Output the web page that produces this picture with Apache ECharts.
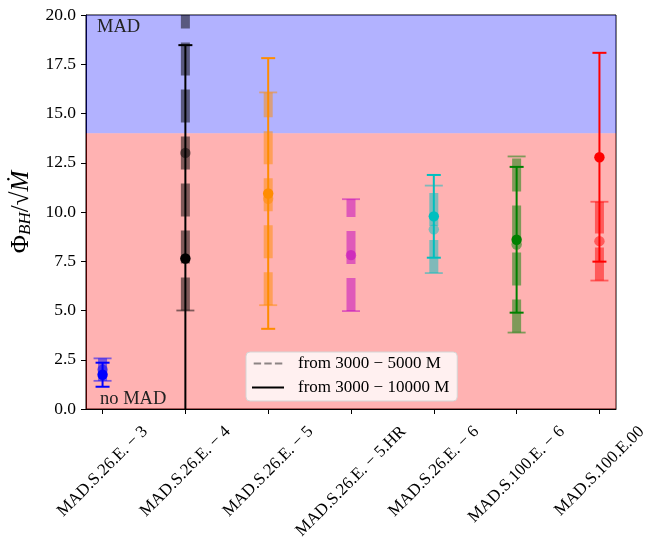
<!DOCTYPE html>
<html>
<head>
<meta charset="utf-8">
<script src="https://cdn.jsdelivr.net/npm/echarts@6/dist/echarts.min.js"></script>
<style>html,body{margin:0;padding:0;background:#fff}#c{width:666px;height:542px}</style>
</head>
<body>
<div id="c"></div>
<script>
// ---- data ----
const categories = ['MAD.S.26.E. − 3', 'MAD.S.26.E. − 4', 'MAD.S.26.E. − 5', 'MAD.S.26.E. − 5.HR', 'MAD.S.26.E. − 6', 'MAD.S.100.E. − 6', 'MAD.S.100.E.00'];
const colors = ['#0000ff', '#000000', '#ff8c00', '#bf00bf', '#00bfbf', '#008000', '#ff0000'];
// from 3000 - 5000 M (translucent dashed)
const shortMean = [2.00, 13.00, 10.67, 7.81, 9.12, 8.35, 8.52];
const shortErr  = [0.57, 8.00, 5.40, 2.84, 2.22, 4.47, 2.00];
// from 3000 - 10000 M (solid)
const longMean = [1.74, 7.64, 10.94, null, 9.78, 8.59, 12.78];
const longErr  = [0.61, 10.83, 6.87, null, 2.10, 3.70, 5.30];
const yTicks = [0, 2.5, 5, 7.5, 10, 12.5, 15, 17.5, 20];
const madThreshold = 14;
const legendNames = ['from 3000 − 5000 M', 'from 3000 − 10000 M'];

const FONT = '"Liberation Serif", "DejaVu Serif", serif';
const FS = 17;

function buildData(mean, err) {
  const out = [];
  mean.forEach((m, i) => { if (m !== null) out.push([i, m, err[i]]); });
  return out;
}

function makeRender(o) {
  return function (params, api) {
    const x = api.value(0), c = api.value(1), e = api.value(2);
    const color = colors[x];
    const cs = params.coordSys;
    const top = cs.y, bot = cs.y + cs.height;
    const pLo = api.coord([x, c - e]);
    const pHi = api.coord([x, c + e]);
    const pC = api.coord([x, c]);
    const yLo = Math.min(pLo[1], bot), yHi = Math.max(pHi[1], top);
    const ch = [];
    ch.push({ type: 'line', shape: { x1: pLo[0], y1: yLo, x2: pLo[0], y2: yHi },
      style: { stroke: color, lineWidth: o.lw, lineDash: o.dash, opacity: o.alpha, lineCap: 'butt' } });
    if (pLo[1] <= bot + 0.5) ch.push({ type: 'line', shape: { x1: pLo[0] - o.cap, y1: pLo[1], x2: pLo[0] + o.cap, y2: pLo[1] },
      style: { stroke: color, lineWidth: o.capLw, opacity: o.alpha } });
    if (pHi[1] >= top - 0.5) ch.push({ type: 'line', shape: { x1: pHi[0] - o.cap, y1: pHi[1], x2: pHi[0] + o.cap, y2: pHi[1] },
      style: { stroke: color, lineWidth: o.capLw, opacity: o.alpha } });
    ch.push({ type: 'circle', shape: { cx: pC[0], cy: pC[1], r: 5.2 }, style: { fill: color, opacity: o.alpha } });
    return { type: 'group', children: ch };
  };
}

// rotated, centre-anchored tick labels (like matplotlib rotation=45, ha=center)
const ctx = document.createElement('canvas').getContext('2d');
ctx.font = FS + 'px ' + FONT;
const rich = {};
categories.forEach((c, i) => {
  const L = ctx.measureText(c).width;
  const p = (L + FS) / 2;
  rich['l' + i] = { padding: [p, p, 0, 0], fontFamily: FONT, fontSize: FS, color: '#000' };
});

const dashIcon = 'path://M0,0h7.4v2h-7.4z M10.6,0h7.4v2h-7.4z M21.2,0h7.4v2h-7.4z';
const solidIcon = 'path://M0,0h32v2h-32z';

const chart = echarts.init(document.getElementById('c'));
chart.setOption({
  animation: false,
  backgroundColor: '#fff',
  grid: { left: 86, top: 15, width: 530, height: 394, show: true, borderColor: '#000', borderWidth: 1,
          containLabel: false, outerBoundsMode: 'none' },
  xAxis: {
    type: 'value', min: -0.2, max: 6.2,
    splitLine: { show: false },
    axisLine: { show: true, onZero: false, lineStyle: { color: '#000', width: 1 } },
    axisTick: { show: true, length: 5, lineStyle: { color: '#000' }, customValues: categories.map((_, i) => i) },
    axisLabel: {
      customValues: categories.map((_, i) => i),
      rotate: 45, align: 'center', verticalAlign: 'middle', margin: 14,
      formatter: v => { const i = Math.round(v); return '{l' + i + '|' + categories[i] + '}'; },
      rich: rich
    }
  },
  yAxis: {
    type: 'value', min: yTicks[0], max: yTicks[yTicks.length - 1], interval: 2.5,
    splitLine: { show: false },
    axisLine: { show: true, onZero: false, lineStyle: { color: '#000', width: 1 } },
    axisTick: { show: true, length: 5, lineStyle: { color: '#000' } },
    axisLabel: { formatter: v => v.toFixed(1), margin: 10, fontFamily: FONT, fontSize: 17.5, color: '#000' },
    name: '{a|Φ}{s|BH}{a|/√}{m|Ṁ}',
    nameLocation: 'middle', nameRotate: 90, nameGap: 50,
    nameTextStyle: {
      rich: {
        a: { fontFamily: FONT, fontSize: 25, color: '#000' },
        s: { fontFamily: FONT, fontSize: 17, fontStyle: 'italic', color: '#000', padding: [9, 0, 0, 0] },
        m: { fontFamily: FONT, fontSize: 25, fontStyle: 'italic', color: '#000' }
      }
    }
  },
  legend: {
    orient: 'vertical', left: 246, top: 352,
    data: [{ name: legendNames[0], icon: dashIcon }, { name: legendNames[1], icon: solidIcon }],
    itemWidth: 32, itemHeight: 2, itemGap: 5,
    padding: [2, 8, 4, 6],
    backgroundColor: 'rgba(255,255,255,0.8)', borderColor: '#d5d5d5', borderWidth: 1, borderRadius: 4,
    textStyle: { fontFamily: FONT, fontSize: FS, color: '#000', lineHeight: 19, padding: [0, 0, 0, 9] }
  },
  series: [
    {
      type: 'line', data: [], z: 0, silent: true,
      markArea: {
        silent: true,
        data: [
          [{ name: 'MAD', yAxis: madThreshold, itemStyle: { color: 'rgba(0,0,255,0.3)' },
             label: { show: true, position: 'insideTopLeft', distance: 0, offset: [11, 3], fontFamily: FONT, fontSize: 18.5, color: '#222' } },
           { yAxis: yTicks[yTicks.length - 1] }],
          [{ name: 'no MAD', yAxis: yTicks[0], itemStyle: { color: 'rgba(255,0,0,0.3)' },
             label: { show: true, position: 'insideBottomLeft', distance: 0, offset: [14, 0], fontFamily: FONT, fontSize: 18.5, color: '#222' } },
           { yAxis: madThreshold }]
        ]
      }
    },
    {
      type: 'custom', z: 3, name: 'shortBars',
      renderItem: makeRender({ alpha: 0.5, lw: 9, dash: [33, 14], cap: 9, capLw: 1.8 }),
      data: buildData(shortMean, shortErr)
    },
    {
      type: 'custom', z: 4, name: 'longBars',
      renderItem: makeRender({ alpha: 1, lw: 2, dash: null, cap: 7, capLw: 2 }),
      data: buildData(longMean, longErr)
    },
    { type: 'line', name: legendNames[0], data: [], symbol: 'none',
      lineStyle: { color: 'rgba(0,0,0,0.45)', width: 2, type: [7.4, 3.2] }, itemStyle: { color: 'rgba(0,0,0,0.45)' } },
    { type: 'line', name: legendNames[1], data: [], symbol: 'none',
      lineStyle: { color: '#000', width: 2 }, itemStyle: { color: '#000' } }
  ]
});
</script>
</body>
</html>
